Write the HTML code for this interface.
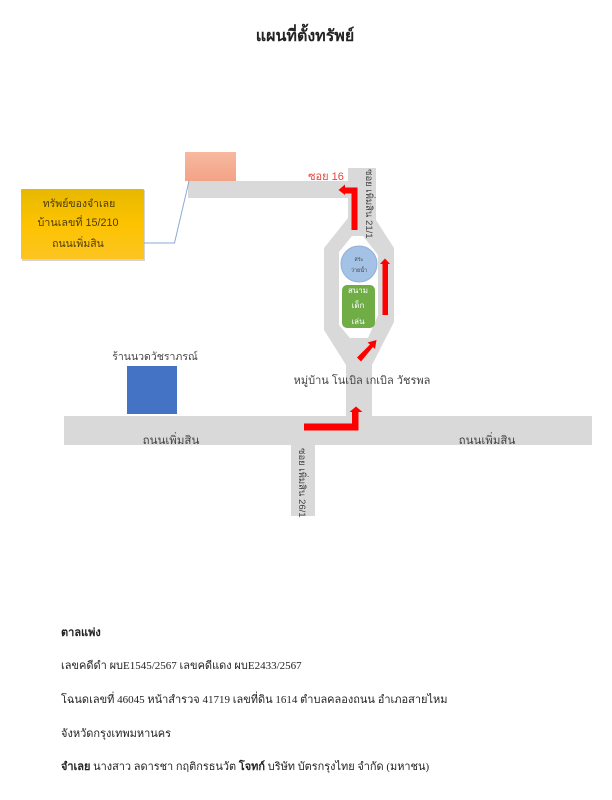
<!DOCTYPE html>
<html><head><meta charset="utf-8"><style>
html,body{margin:0;padding:0;background:#fff}
svg{display:block;filter:blur(.35px)}
text{font-family:"Liberation Serif","Noto Sans CJK SC",serif;fill:#222}
.s{font-family:"Liberation Sans","Noto Sans CJK SC",sans-serif;fill:#444}
.b{fill:#4d3b06}
</style></head><body>
<svg width="612" height="800" viewBox="0 0 612 800" xmlns="http://www.w3.org/2000/svg">
<defs>
<linearGradient id="y" x1="0" y1="0" x2="0" y2="1"><stop offset="0" stop-color="#e6b800"/><stop offset=".5" stop-color="#fdc300"/><stop offset="1" stop-color="#fcc421"/></linearGradient>
<linearGradient id="o" x1="0" y1="0" x2="0" y2="1"><stop offset="0" stop-color="#f6b9a0"/><stop offset="1" stop-color="#f3a386"/></linearGradient>
</defs>
<text x="305" y="41" text-anchor="middle" font-size="16" font-weight="bold">แผนที่ตั้งทรัพย์</text>
<g fill="#d9d9d9">
<rect x="64" y="416" width="528" height="29"/>
<rect x="291" y="445" width="24" height="71"/>
<rect x="188" y="181" width="165" height="17"/>
<path fill-rule="evenodd" d="M348 168H376V220L394 248V322L372 365V416H346V365L324 330V248L348 218ZM352 236L339 252V325L350 338H368L378 315V255L363 236Z"/>
</g>
<rect x="185" y="152" width="51" height="29" fill="url(#o)"/>
<rect x="22" y="190" width="123" height="71" fill="#aaa" opacity=".5"/>
<rect x="21" y="189" width="123" height="70" rx="1" fill="url(#y)"/>
<path d="M144 243H174.500L189 181" fill="none" stroke="#8eaad6" stroke-width="1"/>
<rect x="127" y="366" width="50" height="48" fill="#4472c4"/>
<circle cx="359" cy="264" r="18" fill="#a4c2e6" stroke="#8fb0d8"/>
<rect x="342" y="285" width="33" height="43" rx="5" fill="#70ad47"/>
<g fill="#f00">
<path d="M304 423.500H352V412H349.500L356 406.500L362.500 412H358.500V430.500H304Z"/>
<path d="M351.500 230V193.500H345V195L338.500 190L345 184.500V187.500H357.500V230Z"/>
<path d="M382.500 315V264H380L385 258.500L390 264H388V315Z"/>
<path d="M357 357.500L370 344.500L367.500 342.500L376.500 340L375 349L373 347L361 361.500Z"/>
</g>
<text class="s b" x="79" y="207" text-anchor="middle" font-size="10.500">ทรัพย์ของจำเลย</text>
<text class="s b" x="78" y="226" text-anchor="middle" font-size="10.800">บ้านเลขที่ 15/210</text>
<text class="s b" x="78" y="247" text-anchor="middle" font-size="10.500">ถนนเพิ่มสิน</text>
<text class="s" x="155" y="360" text-anchor="middle" font-size="10.500">ร้านนวดวัชราภรณ์</text>
<text class="s" x="362" y="384" text-anchor="middle" font-size="11">หมู่บ้าน โนเบิล เกเบิล วัชรพล</text>
<text class="s" x="171" y="444" text-anchor="middle" font-size="11.500">ถนนเพิ่มสิน</text>
<text class="s" x="487" y="444" text-anchor="middle" font-size="11.500">ถนนเพิ่มสิน</text>
<text class="s" x="326" y="180" text-anchor="middle" font-size="11" style="fill:#e8413c">ซอย 16</text>
<text class="s" transform="translate(366,169) rotate(90)" font-size="9.500">ซอย เพิ่มสิน 21/1</text>
<text class="s" transform="translate(299,448) rotate(90)" font-size="9.500">ซอย เพิ่มสิน 26/1</text>
<text class="s" x="359" y="261" text-anchor="middle" font-size="5.500">สระ</text>
<text class="s" x="359" y="272" text-anchor="middle" font-size="5.500">ว่ายน้ำ</text>
<text class="s" x="358" y="293" text-anchor="middle" font-size="8" style="fill:#fff">สนาม</text>
<text class="s" x="358" y="308" text-anchor="middle" font-size="8" style="fill:#fff">เด็ก</text>
<text class="s" x="358" y="324" text-anchor="middle" font-size="8" style="fill:#fff">เล่น</text>
<text x="61" y="636" font-size="11" font-weight="bold">ตาลแพ่ง</text>
<text x="61" y="669" font-size="11">เลขคดีดำ ผบE1545/2567 เลขคดีแดง ผบE2433/2567</text>
<text x="61" y="703" font-size="11">โฉนดเลขที่ 46045 หน้าสำรวจ 41719 เลขที่ดิน 1614 ตำบลคลองถนน อำเภอสายไหม</text>
<text x="61" y="737" font-size="11">จังหวัดกรุงเทพมหานคร</text>
<text x="61" y="770" font-size="10.950"><tspan font-weight="bold">จำเลย</tspan> นางสาว ลดารชา กฤติกรธนวัต <tspan font-weight="bold">โจทก์</tspan> บริษัท บัตรกรุงไทย จำกัด (มหาชน)</text>
</svg>
</body></html>
